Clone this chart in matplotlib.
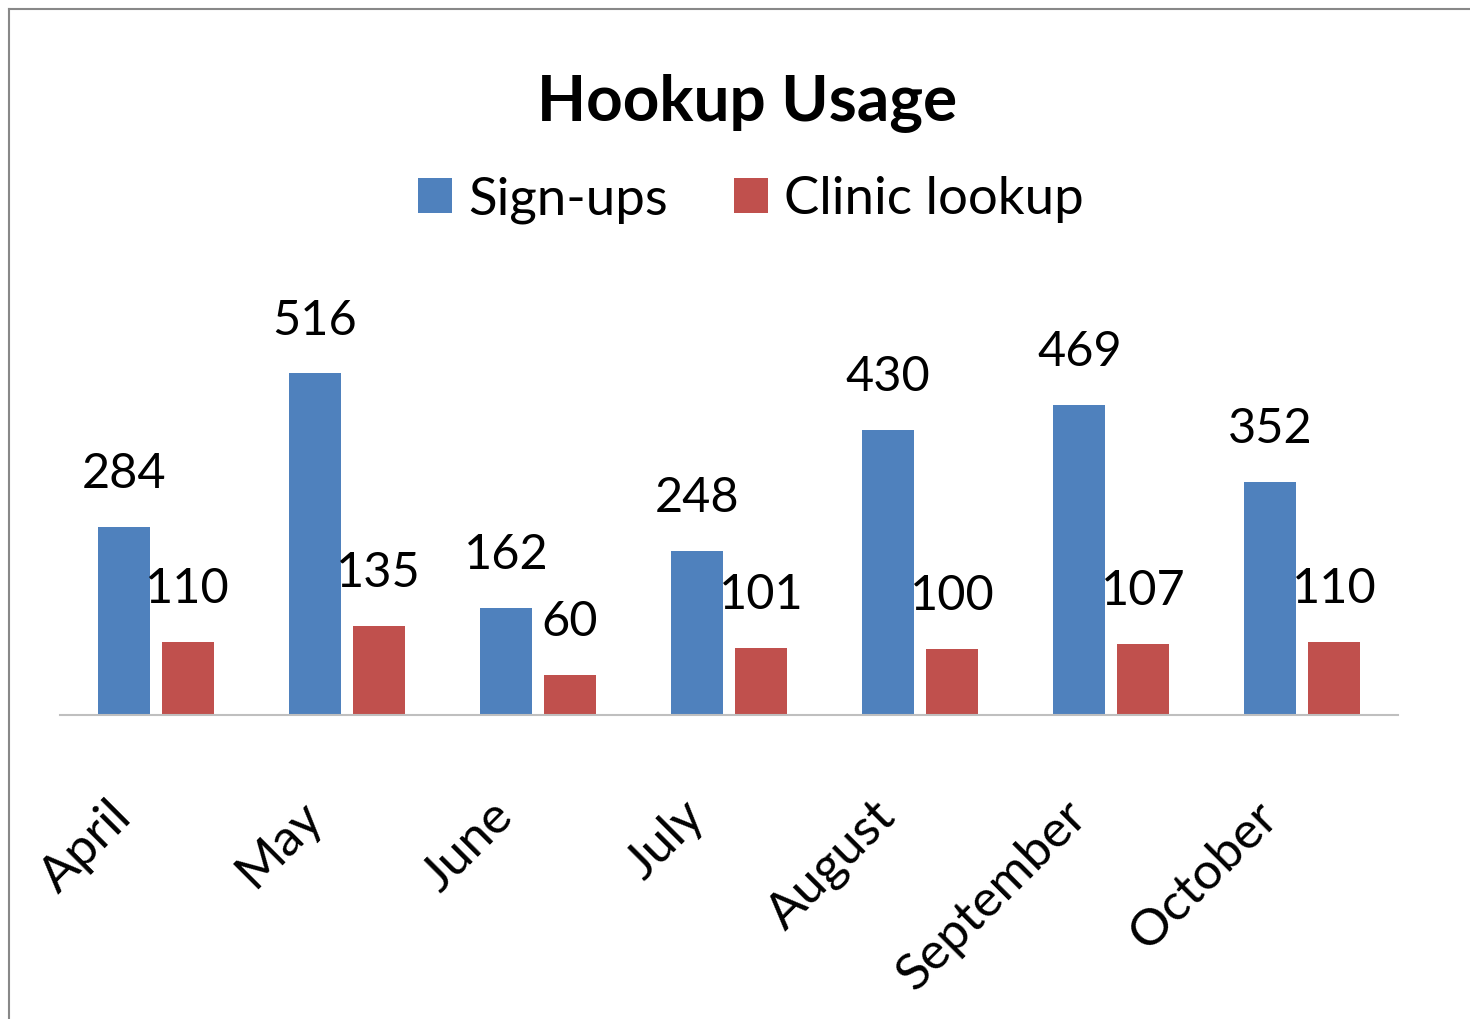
import matplotlib
matplotlib.use("Agg")
import matplotlib.pyplot as plt
from matplotlib.lines import Line2D
from matplotlib.transforms import ScaledTranslation
import numpy as np

months = ["April", "May", "June", "July", "August", "September", "October"]
signups = [284, 516, 162, 248, 430, 469, 352]
clinic = [110, 135, 60, 101, 100, 107, 110]
series_names = ["Sign-ups", "Clinic lookup"]
colors = ["#4F81BD", "#C0504D"]

plt.rcParams['font.family'] = ['Lato', 'DejaVu Sans']

W, H = 1470, 1019
fig = plt.figure(figsize=(W / 100, H / 100), dpi=100)

# axes placement in pixels
x0, x1 = 60, 1398
ybase = 715
ymax = 600
ppu = 0.662
ytop = ybase - ymax * ppu
ax = fig.add_axes([x0 / W, 1 - ybase / H, (x1 - x0) / W, (ybase - ytop) / H])

n = len(months)
x = np.arange(n)
gw = (x1 - x0) / n
bw = 52 / gw
gap = 12 / gw
off = (bw + gap) / 2

b1 = ax.bar(x - off, signups, bw, color=colors[0], label=series_names[0])
b2 = ax.bar(x + off, clinic, bw, color=colors[1], label=series_names[1])

for bars, vals in ((b1, signups), (b2, clinic)):
    for rect, v in zip(bars, vals):
        ax.annotate(str(v), (rect.get_x() + rect.get_width() / 2, v),
                    xytext=(0, 28), textcoords="offset points",
                    ha="center", va="baseline", fontsize=35)

ax.set_xlim(-0.5, n - 0.5)
ax.set_ylim(0, ymax)
ax.set_yticks([])
for s in ["top", "right", "left"]:
    ax.spines[s].set_visible(False)
ax.spines["bottom"].set_color("#BFBFBF")
ax.spines["bottom"].set_linewidth(1.5)
ax.set_xticks(x)
ax.set_xticklabels(months, rotation=45, ha="right", va="center",
                   rotation_mode="anchor", fontsize=37)
ax.tick_params(axis="x", length=0, pad=0)
shift = ScaledTranslation(-32 / 100, -94 / 100, fig.dpi_scale_trans)
for lab in ax.get_xticklabels():
    lab.set_transform(lab.get_transform() + shift)
ax.patch.set_alpha(0)

fig.text(747 / W, 1 - 120 / H, "Hookup Usage", ha="center", va="baseline",
         fontsize=46, fontweight="bold")

leg = fig.legend(handles=[b1, b2], labels=series_names, loc="center",
                 bbox_to_anchor=(751 / W, 1 - 200 / H), ncol=2, frameon=False,
                 fontsize=38, handlelength=0.65, handleheight=0.65,
                 handletextpad=0.3, columnspacing=1.25)

# partial border (left and top)
fig.add_artist(Line2D([9 / W, 9 / W], [0, 1 - 9 / H], transform=fig.transFigure,
                      color="#888888", linewidth=1.5))
fig.add_artist(Line2D([9 / W, 1], [1 - 9 / H, 1 - 9 / H], transform=fig.transFigure,
                      color="#888888", linewidth=1.5))

fig.savefig("out.png", dpi=100)
